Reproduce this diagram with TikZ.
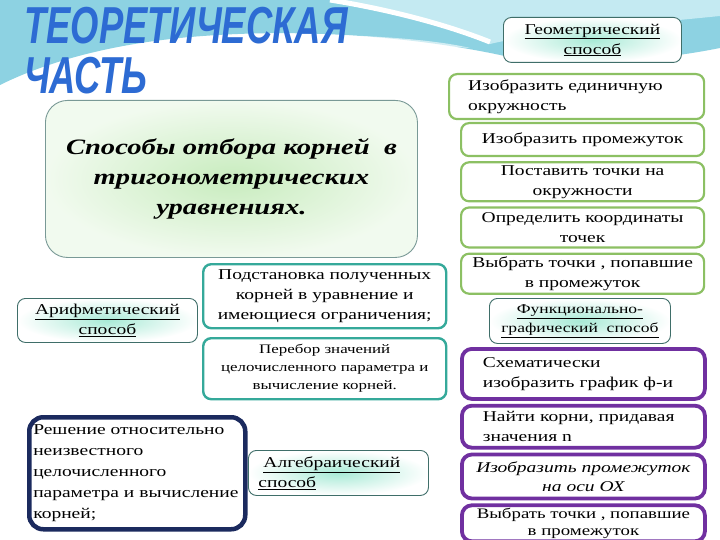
\documentclass[tikz,border=0pt]{standalone}
\usepackage{fontspec}
\setmainfont{Liberation Serif}[FakeStretch=1.3]
\newfontfamily\titlefont{Liberation Sans}[FakeStretch=0.7]
\usetikzlibrary{positioning}
\definecolor{wave}{HTML}{8DD2E2}
\definecolor{wavelight}{HTML}{C4EAF2}
\definecolor{leaf}{HTML}{8CC063}
\definecolor{plum}{HTML}{7030A0}
\definecolor{navyline}{HTML}{1B2A5E}
\definecolor{tealline}{HTML}{35A99A}
\definecolor{methodline}{HTML}{3F6E69}
\definecolor{methodfill}{HTML}{A8EAD6}
\definecolor{mainfill}{HTML}{C8ECBE}
\definecolor{titleblue}{HTML}{2D6BD3}

\begin{document}
\begin{tikzpicture}[x=1pt,y=-1pt,
    every node/.style={font=\fontsize{15}{20}\selectfont, inner ysep=0pt},
    box/.style={rounded corners=8pt, anchor=north west, inner xsep=6pt},
    greenbox/.style={box, draw=leaf, line width=2.2pt, fill=white, align=center},
    plumbox/.style={box, draw=plum, line width=3.8pt, rounded corners=10pt, fill=white, align=center},
    tealbox/.style={box, draw=tealline, line width=2.4pt, fill=white, align=center},
    methodbox/.style={box, draw=methodline, line width=0.9pt, inner color=methodfill, outer color=white, align=center},
    titletext/.style={anchor=base west, inner sep=0pt, text=titleblue, font=\titlefont\bfseries\itshape\fontsize{52}{52}\selectfont}]
\clip (0,0) rectangle (720,540);
\fill[white] (0,0) rectangle (720,540);
\fill[wave] (0,0) -- (720,0) -- (720,48) .. controls (650,62) and (560,68) .. (500,55)
    .. controls (420,38) and (300,26) .. (180,38) .. controls (100,46) and (40,65) .. (0,85) -- cycle;
\fill[wavelight] (340,0) -- (720,0) -- (720,16) .. controls (620,26) and (540,32) .. (490,44)
    .. controls (440,24) and (380,8) .. (340,0) -- cycle;
\fill[white, opacity=0.6] (470,48) .. controls (420,36) and (300,30) .. (180,38) .. controls (300,40) and (420,44) .. (470,48) -- cycle;
\draw[white, line width=5pt] (330,0) .. controls (380,8) and (440,22) .. (490,42);

\node[titletext] (t1) at (24,44) {ТЕОРЕТИЧЕСКАЯ};
\node[titletext] (t2) at (24,94) {ЧАСТЬ};

\node[box, draw=methodline!70, line width=0.9pt, rounded corners=22pt, inner color=mainfill, outer color=mainfill!25,
    minimum width=372pt, minimum height=157pt, align=center, font=\fontsize{22}{30}\selectfont\bfseries\itshape] (main) at (45,100)
    {Способы отбора корней~~в\\тригонометрических\\уравнениях.};

\node[methodbox, minimum width=180pt, minimum height=44pt] (arith) at (17,298) {\underline{Арифметический}\\\underline{способ}};
\node[tealbox, minimum width=243pt, minimum height=64pt] (subst) at (202,263) {Подстановка полученных\\корней в уравнение и\\имеющиеся ограничения;};
\node[tealbox, minimum width=243pt, minimum height=61pt, font=\fontsize{13}{18}\selectfont] (enum) at (202,337) {Перебор значений\\целочисленного параметра и\\вычисление корней.};
\node[box, draw=navyline, line width=4.5pt, rounded corners=14pt, fill=white, minimum width=216pt, minimum height=112pt,
    inner xsep=4pt, text width=208pt, align=left, font=\fontsize{15}{21}\selectfont] (solve) at (27,415)
    {Решение относительно\\неизвестного\\целочисленного\\параметра и вычисление\\корней;};
\node[methodbox, minimum width=180pt, minimum height=45pt, inner xsep=10pt, text width=160pt, align=left] (alg) at (248,450) {~\underline{Алгебраический}\\\underline{способ}};

\node[methodbox, minimum width=178pt, minimum height=45pt] (geom) at (503,17) {\underline{Геометрический}\\\underline{способ}};
\node[greenbox, minimum width=255pt, minimum height=45pt, inner xsep=19pt, text width=217pt, align=left] (g1) at (448,73) {Изобразить единичную\\окружность};
\node[greenbox, minimum width=243pt, minimum height=33pt] (g2) at (460,122) {Изобразить промежуток};
\node[greenbox, minimum width=243pt, minimum height=39pt, below=4pt of g2] (g3) {Поставить точки на\\окружности};
\node[greenbox, minimum width=243pt, minimum height=40pt, below=4pt of g3] (g4) {Определить координаты\\точек};
\node[greenbox, minimum width=243pt, minimum height=40pt, below=4pt of g4] (g5) {Выбрать точки , попавшие\\в промежуток};

\node[methodbox, minimum width=181pt, minimum height=45pt, font=\fontsize{13.5}{19}\selectfont] (func) at (489,298) {\underline{Функционально-}\\\underline{графический~~способ}};
\node[plumbox, minimum width=243pt, minimum height=50pt, inner xsep=21pt, text width=201pt, align=left] (p1) at (460,347) {Схематически\\изобразить график ф-и};
\node[plumbox, minimum width=243pt, minimum height=42pt, inner xsep=21pt, text width=201pt, align=left, below=3pt of p1] (p2) {Найти корни, придавая\\значения n};
\node[plumbox, minimum width=243pt, minimum height=44pt, font=\fontsize{15}{19}\selectfont\itshape, below=3pt of p2] (p3) {Изобразить промежуток\\на оси ОХ};
\node[plumbox, minimum width=243pt, minimum height=36pt, font=\fontsize{14.5}{17}\selectfont, below=3pt of p3] (p4) {Выбрать точки , попавшие\\в промежуток};
\end{tikzpicture}
\end{document}
